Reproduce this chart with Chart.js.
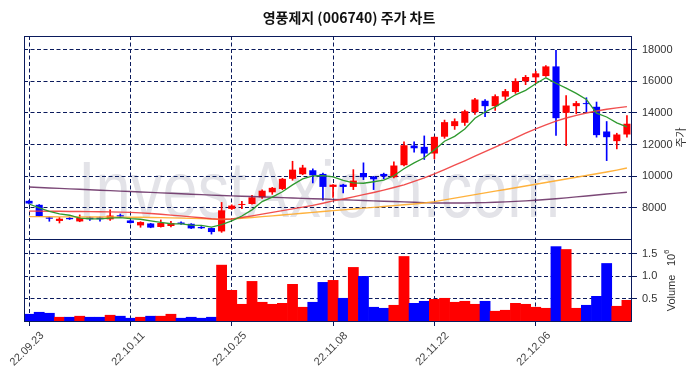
<!DOCTYPE html>
<html>
<head>
<meta charset="utf-8">
<script src="https://cdn.jsdelivr.net/npm/chart.js@4.4.1/dist/chart.umd.min.js"></script>
<style>
	html, body { margin: 0; padding: 0; background: #fff; }
	canvas { display: block; }
</style>
</head>
<body>
<canvas id="stockChart" width="697" height="378"></canvas>
<script>
const titleText = '영풍제지 (006740) 주가 차트';
const watermarkText = 'InvestAxiom.com';

const dates = ['22.09.23','22.09.26','22.09.27','22.09.28','22.09.29','22.09.30','22.10.04','22.10.05','22.10.06','22.10.07',
	'22.10.11','22.10.12','22.10.13','22.10.14','22.10.17','22.10.18','22.10.19','22.10.20','22.10.21','22.10.24',
	'22.10.25','22.10.26','22.10.27','22.10.28','22.10.31','22.11.01','22.11.02','22.11.03','22.11.04','22.11.07',
	'22.11.08','22.11.09','22.11.10','22.11.11','22.11.14','22.11.15','22.11.16','22.11.17','22.11.18','22.11.21',
	'22.11.22','22.11.23','22.11.24','22.11.25','22.11.28','22.11.29','22.11.30','22.12.01','22.12.02','22.12.05',
	'22.12.06','22.12.07','22.12.08','22.12.09','22.12.12','22.12.13','22.12.14','22.12.15','22.12.16','22.12.19'];

const opens = [8450,8200,7400,7180,7370,7150,7400,7400,7280,7540,
	7210,6900,7020,6800,6860,7080,7000,6800,6730,6520,
	7940,8190,8250,8670,8990,9200,9840,10130,10380,10150,
	9330,9470,9330,10210,9980,10150,9940,10700,11940,11860,
	11440,12500,13170,13380,14050,14770,14430,15030,15320,16000,
	16250,16330,16940,14010,14430,14600,14390,12830,12220,12640];
const highs = [8480,8220,7420,7400,7400,7560,7420,7420,7890,7620,
	7230,7130,7030,7240,7150,7130,7010,6830,6740,8350,
	8200,8420,8800,9150,9300,9870,10950,10700,10470,10200,
	9480,9500,10420,10850,10000,10200,10910,12170,12170,12550,
	12500,13550,13630,14180,14920,14850,15150,15490,16165,16370,
	16640,16990,17960,15100,14730,14960,14690,13460,12720,13840];
const lows = [8250,7450,7160,7050,7270,7130,7215,7170,7220,7440,
	7040,6780,6750,6790,6800,6960,6700,6700,6350,6460,
	7900,7960,8240,8600,8860,9150,9750,10100,9580,8500,
	8670,8950,9160,9790,9160,9840,9900,10650,11520,11060,
	11100,12400,12960,13210,13900,13760,14160,14810,15235,15785,
	15870,16300,12580,11940,13950,14050,12470,10990,11730,12470];
const closes = [8280,7470,7320,7320,7290,7370,7290,7290,7520,7460,
	7050,7110,6760,7050,7050,6990,6710,6720,6480,7850,
	8150,8250,8670,9090,9270,9840,10420,10550,10060,9330,
	9470,9330,9730,9940,9810,10000,10680,11960,11770,11440,
	12490,13420,13480,14110,14850,14430,15060,15380,16010,16270,
	16500,16940,13670,14470,14620,14560,12600,12470,12640,13320];
const volumes = [151000,195000,173000,84000,84000,107000,84000,84000,129000,107000,
	62000,84000,107000,107000,151000,62000,84000,62000,84000,1247000,
	684000,373000,884000,418000,373000,395000,818000,307000,418000,862000,
	907000,507000,1196000,996000,307000,284000,351000,1440000,395000,440000,
	484000,507000,418000,440000,373000,440000,218000,240000,395000,373000,
	307000,284000,1660000,1596000,284000,351000,551000,1284000,329000,462000];

const ma5 = [8250,8000,7790,7620,7540,7354,7318,7312,7352,7386,
	7322,7286,7180,7086,7004,6992,6912,6904,6790,6950,
	7182,7490,7880,8402,8686,9024,9458,9834,10028,10040,
	9966,9748,9584,9560,9656,9762,10032,10478,10844,11170,
	11668,12216,12520,12988,13670,14058,14386,14766,15146,15430,
	15844,16220,15878,15570,15240,14852,13984,13744,13378,13118];
const ma20 = [7800,7800,7790,7790,7780,7780,7770,7760,7750,7740,
	7720,7690,7650,7600,7550,7500,7440,7380,7320,7280,
	7300,7400,7500,7610,7720,7830,7940,8050,8160,8300,
	8450,8570,8700,8840,8980,9130,9290,9460,9680,9900,
	10150,10420,10700,10980,11270,11560,11840,12130,12430,12720,
	13000,13250,13480,13680,13850,14000,14120,14230,14320,14400];
const ma60 = [7450,7450,7445,7440,7440,7435,7430,7430,7425,7420,
	7415,7410,7400,7390,7375,7360,7345,7330,7300,7270,
	7300,7350,7400,7450,7500,7555,7610,7665,7720,7775,
	7830,7880,7935,7990,8040,8095,8150,8200,8250,8310,
	8400,8510,8620,8730,8840,8950,9060,9170,9280,9390,
	9500,9610,9720,9830,9940,10050,10160,10270,10390,10520];
const ma120 = [9320,9290,9262,9234,9206,9178,9150,9122,9094,9066,
	9038,9010,8982,8954,8926,8898,8870,8842,8814,8790,
	8765,8743,8720,8698,8675,8653,8630,8608,8585,8563,
	8540,8518,8495,8473,8450,8428,8405,8383,8360,8338,
	8316,8310,8310,8315,8325,8340,8360,8385,8415,8450,
	8490,8535,8585,8640,8700,8760,8820,8880,8940,8990];

const priceTicks = [8000, 10000, 12000, 14000, 16000, 18000];
const volumeTicks = [500000, 1000000, 1500000];
const dateLabelIndexes = [0, 10, 20, 30, 40, 50];

(() => {
	'use strict'

	const NAVY = '#0a1a5c';
	const UP = '#ff0000';
	const DOWN = '#0000ff';
	const TEXT = '#333333';
	const GRID_DASH = [4, 2.5];

	const candleColors = closes.map((c, i) => (c >= opens[i] ? UP : DOWN));
	const bodies = opens.map((o, i) => [Math.min(o, closes[i]), Math.max(o, closes[i])]);
	const wicks = lows.map((l, i) => [l, highs[i]]);

	const decorations = {
		id: 'decorations',
		beforeDraw(chart) {
			const ctx = chart.ctx;
			ctx.save();
			ctx.font = '80px "Liberation Sans", Arial, sans-serif';
			const w = ctx.measureText(watermarkText).width;
			ctx.translate(78, 217);
			ctx.scale(482 / w, 1);
			ctx.fillStyle = 'rgba(200, 200, 210, 0.5)';
			ctx.textBaseline = 'alphabetic';
			ctx.fillText(watermarkText, 0, 0);
			ctx.restore();
		},
		afterDraw(chart) {
			const ctx = chart.ctx;
			const area = chart.chartArea;
			const xScale = chart.scales.x;
			const yScale = chart.scales.y;
			const vScale = chart.scales.yv;

			ctx.save();
			// frame and panel separator
			ctx.strokeStyle = NAVY;
			ctx.lineWidth = 1;
			ctx.strokeRect(Math.round(area.left) + 0.5, Math.round(area.top) + 0.5,
				Math.round(area.right - area.left) - 1, Math.round(area.bottom - area.top));
			const sep = Math.round(yScale.bottom) + 0.5;
			ctx.beginPath();
			ctx.moveTo(area.left, sep);
			ctx.lineTo(area.right, sep);
			ctx.stroke();

			// title
			ctx.fillStyle = '#111';
			ctx.font = 'bold 14px "Noto Sans CJK KR", sans-serif';
			ctx.textAlign = 'center';
			ctx.textBaseline = 'middle';
			ctx.fillText(titleText, 349, 18);

			// date labels
			ctx.fillStyle = '#444';
			ctx.font = '11px "Liberation Sans", Arial, sans-serif';
			dateLabelIndexes.forEach((i) => {
				const x = xScale.getPixelForValue(i);
				ctx.save();
				ctx.translate(x - 2, 349);
				ctx.rotate(-Math.PI / 4);
				ctx.fillText(dates[i], 0, 0);
				ctx.restore();
			});

			// axis titles
			ctx.fillStyle = TEXT;
			ctx.save();
			ctx.translate(681, (yScale.top + yScale.bottom) / 2);
			ctx.rotate(-Math.PI / 2);
			ctx.font = '11px "Noto Sans CJK KR", sans-serif';
			ctx.fillText('주가', 0, 0);
			ctx.restore();

			ctx.save();
			ctx.translate(672, 293);
			ctx.rotate(-Math.PI / 2);
			ctx.font = '11px "Liberation Sans", Arial, sans-serif';
			ctx.fillText('Volume', 0, 0);
			ctx.textAlign = 'left';
			ctx.fillText('10', 27, 0);
			ctx.font = '8px "Liberation Sans", Arial, sans-serif';
			ctx.fillText('6', 39, -5);
			ctx.restore();

			ctx.restore();
		}
	};

	new Chart(document.getElementById('stockChart'), {
		type: 'bar',
		data: {
			labels: dates,
			datasets: [
				{ type: 'line', label: 'MA5', data: ma5, yAxisID: 'y', borderColor: '#2f9a2f', borderWidth: 1.3, pointRadius: 0, order: 0 },
				{ type: 'line', label: 'MA20', data: ma20, yAxisID: 'y', borderColor: 'rgba(240, 60, 60, 0.9)', borderWidth: 1.4, pointRadius: 0, order: 0 },
				{ type: 'line', label: 'MA60', data: ma60, yAxisID: 'y', borderColor: 'rgba(255, 170, 40, 0.9)', borderWidth: 1.4, pointRadius: 0, order: 0 },
				{ type: 'line', label: 'MA120', data: ma120, yAxisID: 'y', borderColor: 'rgba(100, 40, 95, 0.85)', borderWidth: 1.4, pointRadius: 0, order: 0 },
				{
					label: 'body',
					data: bodies,
					yAxisID: 'y',
					backgroundColor: candleColors,
					barPercentage: 0.7,
					categoryPercentage: 1,
					grouped: false,
					borderSkipped: false,
					minBarLength: 1,
					order: 1
				},
				{
					label: 'wick',
					data: wicks,
					yAxisID: 'y',
					backgroundColor: candleColors,
					barThickness: 1,
					grouped: false,
					borderSkipped: false,
					order: 2
				},
				{
					label: 'volume',
					data: volumes,
					yAxisID: 'yv',
					backgroundColor: candleColors,
					barPercentage: 1,
					categoryPercentage: 1,
					grouped: false,
					order: 3
				}
			]
		},
		options: {
			responsive: false,
			animation: false,
			devicePixelRatio: 1,
			layout: { padding: { left: 24, top: 36, right: 0, bottom: 0 } },
			plugins: {
				legend: { display: false },
				tooltip: { enabled: false }
			},
			scales: {
				x: {
					type: 'category',
					offset: true,
					afterFit: function(scale) { scale.height = 57; },
					grid: {
						offset: false,
						color: (ctx) => (dateLabelIndexes.includes(ctx.index) ? NAVY : 'rgba(0,0,0,0)'),
						tickColor: (ctx) => (dateLabelIndexes.includes(ctx.index) ? NAVY : 'rgba(0,0,0,0)'),
						tickLength: 5,
						lineWidth: 1
					},
					border: { display: false, dash: GRID_DASH },
					ticks: { display: false, autoSkip: false }
				},
				y: {
					position: 'right',
					stack: 'panels',
					stackWeight: 203,
					min: 6040,
					max: 18860,
					afterBuildTicks: function(scale) { scale.ticks = priceTicks.map((v) => ({ value: v })); },
					afterFit: function(scale) { scale.width = 65; },
					grid: { color: NAVY, tickColor: NAVY, tickLength: 5, lineWidth: 1 },
					border: { display: false, dash: GRID_DASH },
					ticks: {
						padding: 5,
						color: TEXT,
						font: { family: '"Liberation Sans", Arial, sans-serif', size: 11 },
						callback: function(value) { return String(value); }
					}
				},
				yv: {
					position: 'right',
					stack: 'panels',
					stackWeight: 82,
					min: 0,
					max: 1830000,
					afterBuildTicks: function(scale) { scale.ticks = volumeTicks.map((v) => ({ value: v })); },
					afterFit: function(scale) { scale.width = 65; },
					grid: { color: NAVY, tickColor: NAVY, tickLength: 5, lineWidth: 1 },
					border: { display: false, dash: GRID_DASH },
					ticks: {
						padding: 5,
						color: TEXT,
						font: { family: '"Liberation Sans", Arial, sans-serif', size: 11 },
						callback: function(value) { return (value / 1e6).toFixed(1); }
					}
				}
			}
		},
		plugins: [decorations]
	});
})()
</script>
</body>
</html>
